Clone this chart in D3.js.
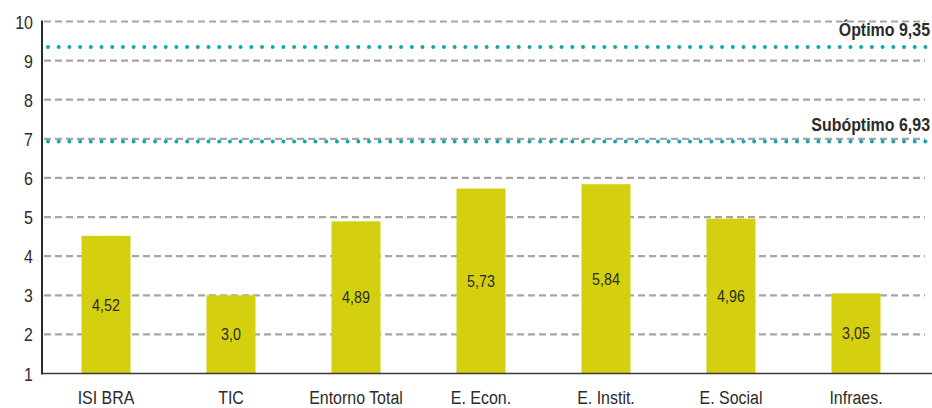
<!DOCTYPE html>
<html>
<head>
<meta charset="utf-8">
<script src="https://cdn.jsdelivr.net/npm/d3@7"></script>
<style>
  html, body { margin: 0; padding: 0; background: #fff; }
  svg { display: block; }
  text { font-family: 'Liberation Sans', Arial, sans-serif; }
</style>
</head>
<body>
<svg id="chart" width="932" height="408"></svg>
<script>
const categories = ["ISI BRA", "TIC", "Entorno Total", "E. Econ.", "E. Instit.", "E. Social", "Infraes."];
const values = [4.52, 3.0, 4.89, 5.73, 5.84, 4.96, 3.05];
const valueLabels = ["4,52", "3,0", "4,89", "5,73", "5,84", "4,96", "3,05"];
const yTicks = [1, 2, 3, 4, 5, 6, 7, 8, 9, 10];
const refValues = [9.35, 6.93];
const refLabels = ["Óptimo 9,35", "Subóptimo 6,93"];

const svg = d3.select("#chart");
const W = 932, H = 408;
const plotLeft = 42, plotBottom = 373.5, plotTop = 21.5;
const SX = 0.84; // condensed look

const y = d3.scaleLinear().domain([1, 10]).range([plotBottom, plotTop]);
const x = d3.scaleBand().domain(categories).range([43.5, 918.5]).paddingInner(0.6).paddingOuter(0.3);

function place(sel, fx, fy) {
  return sel.attr("transform", (d, i) => `translate(${fx(d, i)},${fy(d, i)}) scale(${SX},1)`);
}

// gridlines
svg.append("g").selectAll("line").data(yTicks.filter(d => d > 1)).join("line")
  .attr("x1", plotLeft + 2).attr("x2", 925)
  .attr("y1", d => y(d)).attr("y2", d => y(d))
  .attr("stroke", "#a6a6a8").attr("stroke-width", 2.2)
  .attr("stroke-dasharray", "7,4");

// y tick labels
place(svg.append("g").selectAll("text").data(yTicks).join("text"), () => 33, d => y(d) + 7)
  .attr("text-anchor", "end")
  .attr("font-size", 19).attr("fill", "#2b2b2b")
  .text(d => d);

// bars
const bw = 49;
svg.append("g").selectAll("rect").data(values).join("rect")
  .attr("x", (d, i) => x(categories[i]) + x.bandwidth() / 2 - bw / 2)
  .attr("width", bw)
  .attr("y", d => y(d))
  .attr("height", d => y(1) - y(d))
  .attr("fill", "#d4d00f");

// value labels
place(svg.append("g").selectAll("text").data(values).join("text"),
  (d, i) => x(categories[i]) + x.bandwidth() / 2,
  d => (y(d) + y(1)) / 2 + 6)
  .attr("text-anchor", "middle")
  .attr("font-size", 17).attr("fill", "#2b2b2b")
  .text((d, i) => valueLabels[i]);

// reference dotted lines
svg.append("g").selectAll("line").data(refValues).join("line")
  .attr("x1", plotLeft + 6).attr("x2", W)
  .attr("y1", d => y(d)).attr("y2", d => y(d))
  .attr("stroke", "#13a7ac").attr("stroke-width", 4)
  .attr("stroke-linecap", "round")
  .attr("stroke-dasharray", "0,10.7");

place(svg.append("g").selectAll("text").data(refValues).join("text"), () => 930, d => y(d) - 11)
  .attr("text-anchor", "end")
  .attr("font-size", 19).attr("font-weight", "bold").attr("fill", "#2b2b2b")
  .text((d, i) => refLabels[i]);

// axes lines
svg.append("line").attr("x1", plotLeft).attr("x2", plotLeft).attr("y1", plotTop - 1).attr("y2", plotBottom + 1)
  .attr("stroke", "#2b2b2b").attr("stroke-width", 2);
svg.append("line").attr("x1", plotLeft).attr("x2", W).attr("y1", plotBottom).attr("y2", plotBottom)
  .attr("stroke", "#3a3a3a").attr("stroke-width", 1.6);

// category labels
place(svg.append("g").selectAll("text").data(categories).join("text"),
  d => x(d) + x.bandwidth() / 2, () => 404)
  .attr("text-anchor", "middle")
  .attr("font-size", 19).attr("fill", "#2b2b2b")
  .text(d => d);
</script>
</body>
</html>
